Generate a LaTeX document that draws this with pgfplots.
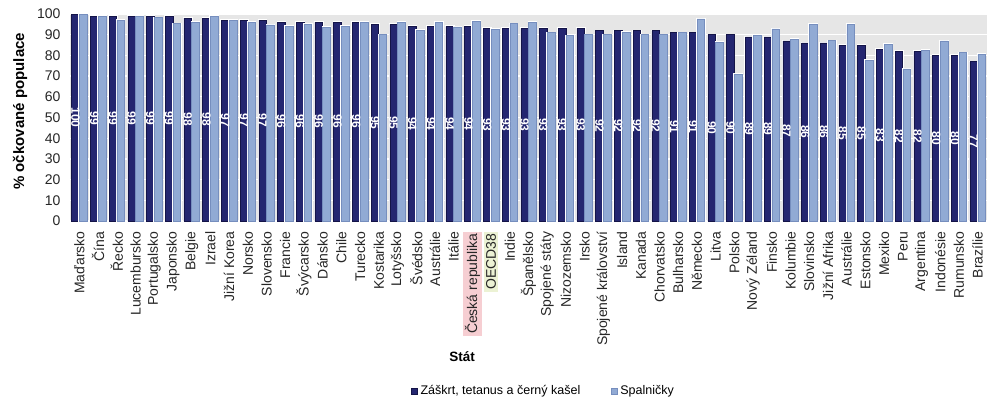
\documentclass[border=0pt]{standalone}
\usepackage{fontspec}
\setmainfont{Liberation Sans}
\usepackage{pgfplots}
\usepackage{pgfplotstable}
\pgfplotsset{compat=1.18}
\definecolor{dtpc}{RGB}{36,38,112}
\definecolor{dtpedge}{RGB}{20,20,72}
\definecolor{mmrc}{RGB}{145,170,212}
\definecolor{mmredge}{RGB}{118,142,190}
\definecolor{bgc}{RGB}{230,230,230}
\definecolor{czpink}{RGB}{246,206,210}
\definecolor{oecdgreen}{RGB}{236,242,212}

\pgfplotstableread{
x dtp mmr
0 100 99.7
1 99 99
2 99 96.9
3 99 99
4 99 98.2
5 99 95.3
6 98 96
7 98 98.9
8 97 97
9 97 96.1
10 97 94.8
11 96 94
12 96 95
13 96 93.5
14 96 94
15 96 96
16 95 90
17 95 96
18 94 92.2
19 94 96
20 94 93.8
21 94 96.6
22 93 92.7
23 93 95.3
24 93 96.1
25 93 91
26 93 89.6
27 93 90
28 92 90
29 92 91.2
30 92 90
31 92 90
32 91 91
33 91 97.6
34 90 86.3
35 90 71
36 89 89.8
37 89 92.8
38 87 87.8
39 86 95.1
40 86 87.2
41 85 95
42 85 77.6
43 83 85.4
44 82 73.5
45 82 82.4
46 80 87
47 80 81.3
48 77 80.5
}\data

\begin{document}
\begin{tikzpicture}
\setlength{\fboxsep}{2pt}
\begin{axis}[
  at={(70pt,-221pt)}, anchor=south west,
  width=917pt, height=207pt, scale only axis,
  xmin=-0.5, xmax=48.5, ymin=0, ymax=100,
  xtick={0,...,48},
  xticklabels={Maďarsko,Čína,Řecko,Lucembursko,Portugalsko,Japonsko,Belgie,Izrael,Jižní Korea,Norsko,Slovensko,Francie,Švýcarsko,Dánsko,Chile,Turecko,Kostarika,Lotyšsko,Švédsko,Austrálie,Itálie,{\colorbox{czpink}{Česká republika}},{\colorbox{oecdgreen}{OECD38}},Indie,Španělsko,Spojené státy,Nizozemsko,Irsko,Spojené království,Island,Kanada,Chorvatsko,Bulharsko,Německo,Litva,Polsko,Nový Zéland,Finsko,Kolumbie,Slovinsko,Jižní Afrika,Austrálie,Estonsko,Mexiko,Peru,Argentina,Indonésie,Rumunsko,Brazílie},
  ytick={0,10,...,100},
  axis background/.style={fill=bgc},
  ymajorgrids, grid style={white, line width=1.3pt},
  axis line style={draw=none},
  major tick length=0pt,
  tick label style={font=\fontsize{14}{16}\selectfont, text=black!85},
  /pgf/number format/assume math mode=true,
  xticklabel style={rotate=90, anchor=east},
  xticklabel shift=7pt, yticklabel shift=6pt,
  xlabel={Stát}, ylabel={\% očkované populace},
  xlabel style={at={(axis description cs:0.4275,-0.657)}, anchor=center, font=\bfseries\fontsize{13.5}{15}\selectfont},
  ylabel style={at={(axis description cs:-0.0545,0.53)}, anchor=center, font=\bfseries\fontsize{15}{17}\selectfont},
  legend style={at={(axis description cs:0.516,-0.821)}, anchor=center, draw=none, fill=none, font=\fontsize{12.5}{14}\selectfont, /tikz/every even column/.append style={column sep=28pt}},
  legend columns=2,
  sq legend/.style={legend image code/.code={\draw[##1, line width=0.6pt] (0pt,-3pt) rectangle (6pt,3pt);}},
  clip=false,
]
\addplot[ybar, bar width=7.6pt, bar shift=-3.9pt, fill=dtpc, draw=dtpedge, line width=0.5pt, preaction={draw=white, line width=2pt}, sq legend] table[x=x,y=dtp]{\data};
\addlegendentry{Záškrt, tetanus a černý kašel}
\addplot[ybar, bar width=7.6pt, bar shift=3.9pt, fill=mmrc, draw=mmredge, line width=0.5pt, preaction={draw=white, line width=2pt}, sq legend] table[x=x,y=mmr]{\data};
\addlegendentry{Spalničky}
\addplot[draw=none, mark=none, forget plot, nodes near coords, point meta=explicit symbolic,
  nodes near coords style={xshift=-3.9pt, rotate=-90, anchor=center, text=white, inner sep=0pt, font=\bfseries\fontsize{12}{13}\selectfont}]
  table[x=x, y expr=\thisrow{dtp}/2, meta=dtp]{\data};
\end{axis}
\pgfresetboundingbox
\useasboundingbox (0,0) rectangle (1000pt,-413pt);
\end{tikzpicture}
\end{document}
